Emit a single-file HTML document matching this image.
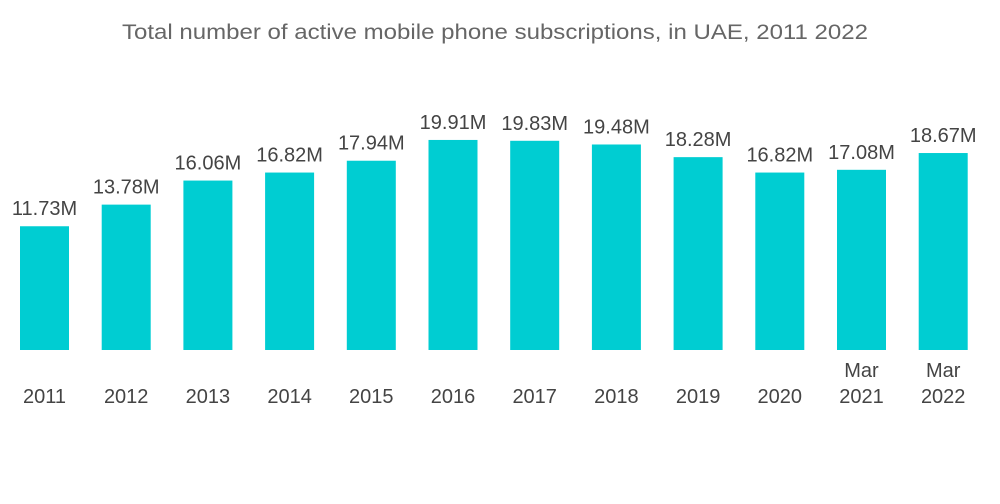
<!DOCTYPE html>
<html><head><meta charset="utf-8"><style>
html,body{margin:0;padding:0;background:#fff;width:1000px;height:504px;overflow:hidden}
svg{display:block;font-family:"Liberation Sans",sans-serif}
</style></head><body>
<svg id="chart" width="1000" height="504" viewBox="0 0 1000 504">
<text x="495" y="39" text-anchor="middle" font-size="21" fill="#666" textLength="746" lengthAdjust="spacingAndGlyphs">Total number of active mobile phone subscriptions, in UAE, 2011  2022</text>
<g id="bars"></g>
</svg>
<script>
const categories = ["2011","2012","2013","2014","2015","2016","2017","2018","2019","2020","2021","2022"];
const prefixes = ["","","","","","","","","","","Mar","Mar"];
const values = [11.73,13.78,16.06,16.82,17.94,19.91,19.83,19.48,18.28,16.82,17.08,18.67];
const valueLabels = ["11.73M","13.78M","16.06M","16.82M","17.94M","19.91M","19.83M","19.48M","18.28M","16.82M","17.08M","18.67M"];

const NS = "http://www.w3.org/2000/svg";
const baseY = 350, pxPerUnit = 10.55, x0 = 20, step = 81.7, bw = 49;
function xScale(i){ return x0 + i*step; }
function yScale(v){ return baseY - v*pxPerUnit; }
const g = document.getElementById('bars');
function mk(tag, attrs){ const e=document.createElementNS(NS,tag); for(const k in attrs) e.setAttribute(k,attrs[k]); return e; }
values.forEach((v,i)=>{
  const x = xScale(i), y = yScale(v);
  const r = mk('rect',{x:x,y:y,width:bw,height:baseY-y,fill:'#00CDD2'});
  
  
  g.appendChild(r);
  const t = mk('text',{x:x+bw/2,y:y-11,'text-anchor':'middle','font-size':'20',fill:'#444'});
  t.textContent = valueLabels[i];
  
  
  g.appendChild(t);
  const c = mk('text',{x:x+bw/2,y:403,'text-anchor':'middle','font-size':'20',fill:'#444'});
  c.textContent = categories[i];
  
  
  g.appendChild(c);
  if(prefixes[i]){
    const p = mk('text',{x:x+bw/2,y:377,'text-anchor':'middle','font-size':'20',fill:'#444'});
    p.textContent = prefixes[i];
    
    
    g.appendChild(p);
  }
});
</script>
</body></html>
